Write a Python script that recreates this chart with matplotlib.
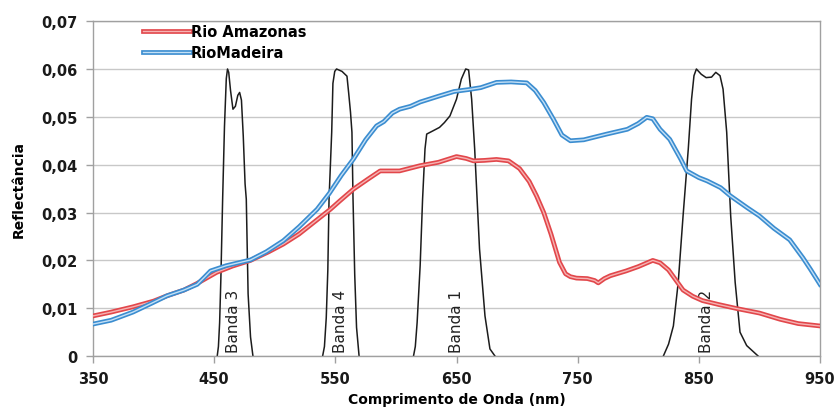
import matplotlib.pyplot as plt
import matplotlib.patheffects as pe
from matplotlib.ticker import FuncFormatter

# reflectance curves (wavelength nm, reflectance)
amazonas_wl = [350, 365, 383, 400, 411, 425, 436, 452, 465, 480, 495, 507, 520, 535, 546, 554,
               565, 577, 587, 603, 620, 635, 650, 658, 664, 673, 683, 693, 702, 710, 716, 722,
               728, 735, 740, 744, 749, 758, 764, 767, 772, 777, 790, 800, 812, 818, 825, 837,
               845, 853, 866, 882, 900, 917, 932, 950]
amazonas_r = [0.0084, 0.0092, 0.0103, 0.0115, 0.0126, 0.0138, 0.0152, 0.0175, 0.0188, 0.0200,
              0.0218, 0.0234, 0.0255, 0.0285, 0.0307, 0.0325, 0.0349, 0.0370, 0.0387, 0.0387,
              0.0398, 0.0405, 0.0417, 0.0413, 0.0408, 0.0409, 0.0411, 0.0408, 0.0392, 0.0365,
              0.0335, 0.0300, 0.0255, 0.0196, 0.0172, 0.0166, 0.0163, 0.0162, 0.0158, 0.0153,
              0.0162, 0.0168, 0.0178, 0.0187, 0.0200, 0.0195, 0.0180, 0.0138, 0.0125, 0.0116,
              0.0108, 0.0099, 0.0090, 0.0077, 0.0068, 0.0063]

madeira_wl = [350, 365, 383, 398, 411, 425, 436, 442, 447, 460, 470, 480, 493, 507, 520, 535,
              545, 555, 565, 575, 584, 590, 597, 603, 612, 620, 635, 648, 660, 670, 683, 695,
              708, 715, 722, 730, 737, 744, 755, 774, 791, 800, 807, 812, 818, 826, 835, 840,
              850, 857, 868, 876, 890, 900, 912, 925, 936, 942, 950]
madeira_r = [0.0067, 0.0075, 0.0092, 0.0110, 0.0126, 0.0138, 0.0150, 0.0165, 0.0178, 0.0189,
             0.0195, 0.0201, 0.0218, 0.0241, 0.0270, 0.0307, 0.0340, 0.0378, 0.0412, 0.0452,
             0.0481, 0.0490, 0.0508, 0.0516, 0.0522, 0.0531, 0.0543, 0.0553, 0.0557, 0.0561,
             0.0572, 0.0573, 0.0571, 0.0555, 0.0530, 0.0495, 0.0462, 0.0450, 0.0452, 0.0464,
             0.0474, 0.0486, 0.0499, 0.0496, 0.0474, 0.0453, 0.0412, 0.0387, 0.0373, 0.0366,
             0.0352, 0.0335, 0.0310, 0.0293, 0.0267, 0.0243, 0.0205, 0.0182, 0.0150]

# sensor band responses (scaled to the reflectance axis)
band3_wl = [452.5, 453.5, 454.5, 455.5, 457, 458.5, 460, 461, 462, 463.5, 465.5, 467.5, 469.5,
            471, 472.5, 474, 475.5, 476.5, 478, 480, 482]
band3_r = [0.0, 0.002, 0.007, 0.016, 0.033, 0.048, 0.058, 0.0600, 0.0593, 0.0555, 0.0516,
           0.0522, 0.0545, 0.0551, 0.0535, 0.046, 0.036, 0.0328, 0.013, 0.004, 0.0]

band4_wl = [539.5, 541, 542.5, 543.8, 544.8, 547, 548, 549.5, 551, 555.5, 559.6, 561, 562.5,
            563.7, 564.6, 566, 567.5, 569.6]
band4_r = [0.0, 0.002, 0.008, 0.018, 0.0328, 0.0468, 0.057, 0.0595, 0.0600, 0.0595, 0.0585,
           0.055, 0.051, 0.0468, 0.0328, 0.017, 0.006, 0.0]

band1_wl = [614.5, 616, 617.5, 620, 622, 624, 625.4, 630, 636, 640, 644.6, 650, 654, 657.6, 660,
            662.5, 665, 669, 673.5, 677.6, 681.8]
band1_r = [0.0, 0.002, 0.007, 0.0189, 0.0328, 0.0433, 0.0464, 0.0470, 0.0478, 0.0488, 0.0502,
           0.0537, 0.0579, 0.0600, 0.0598, 0.0537, 0.0433, 0.0224, 0.0084, 0.0015, 0.0]

band2_wl = [820.7, 825, 829, 833, 837, 841.3, 844, 846, 848, 852, 856, 860.5, 864, 867.5, 870,
            873, 876.3, 880, 884, 889.5, 899]
band2_r = [0.0, 0.0025, 0.0063, 0.0154, 0.0293, 0.0433, 0.0537, 0.0586, 0.0600, 0.0589, 0.0582,
           0.0583, 0.0593, 0.0586, 0.0558, 0.0468, 0.0293, 0.0154, 0.0050, 0.0022, 0.0]

band_names = ["Banda 3", "Banda 4", "Banda 1", "Banda 2"]
band_label_x = [466, 554, 650, 856]

x_ticks = [350, 450, 550, 650, 750, 850, 950]
y_ticks = [0, 0.01, 0.02, 0.03, 0.04, 0.05, 0.06, 0.07]

narrow = ['Liberation Sans Narrow', 'DejaVu Sans']


def main():
    fig = plt.figure(figsize=(8.38, 4.10), dpi=100)
    ax = fig.add_axes([0.111, 0.129, 0.8675, 0.817])

    for xs, ys in [(band3_wl, band3_r), (band4_wl, band4_r),
                   (band1_wl, band1_r), (band2_wl, band2_r)]:
        ax.plot(xs, ys, color='#1c1c1c', lw=1.1, zorder=2)

    for name, xl in zip(band_names, band_label_x):
        ax.text(xl, 0.0075, name, rotation=90, ha='center', va='center',
                fontsize=11, family=narrow, color='#222222', zorder=2)

    ax.plot(amazonas_wl, amazonas_r, color='#f6b3b3', lw=1.0, label='Rio Amazonas', zorder=3,
            path_effects=[pe.Stroke(linewidth=3.4, foreground='#e2474b'), pe.Normal()])
    ax.plot(madeira_wl, madeira_r, color='#c4e0f6', lw=1.0, label='RioMadeira', zorder=3,
            path_effects=[pe.Stroke(linewidth=3.4, foreground='#3b8dd0'), pe.Normal()])

    ax.set_xlim(350, 950)
    ax.set_ylim(0, 0.07)
    ax.set_xticks(x_ticks)
    ax.set_yticks(y_ticks)
    ax.yaxis.set_major_formatter(FuncFormatter(
        lambda v, p: '0' if v == 0 else f'{v:.2f}'.replace('.', ',')))
    ax.tick_params(axis='both', labelsize=10.5, color='#a0a0a0', length=5, width=1, pad=6)
    for lab in ax.get_xticklabels() + ax.get_yticklabels():
        lab.set_fontweight('bold')
        lab.set_color('#1a1a1a')

    ax.grid(axis='y', color='#c8c8c8', lw=1.0, zorder=0)
    ax.set_axisbelow(True)
    for sp in ax.spines.values():
        sp.set_color('#a0a0a0')
        sp.set_linewidth(1.0)

    ax.set_xlabel('Comprimento de Onda (nm)', fontsize=10, fontweight='bold', labelpad=4)
    ax.set_ylabel('Reflectância', fontsize=10, fontweight='bold', family=narrow, labelpad=11)

    ax.legend(loc='upper left', bbox_to_anchor=(0.069, 0.99), frameon=False,
              borderpad=0, borderaxespad=0, handlelength=3.2, handletextpad=0.05,
              labelspacing=0.4, prop={'weight': 'bold', 'size': 10.5})

    plt.savefig('out.png', dpi=100)


if __name__ == "__main__":
    main()
